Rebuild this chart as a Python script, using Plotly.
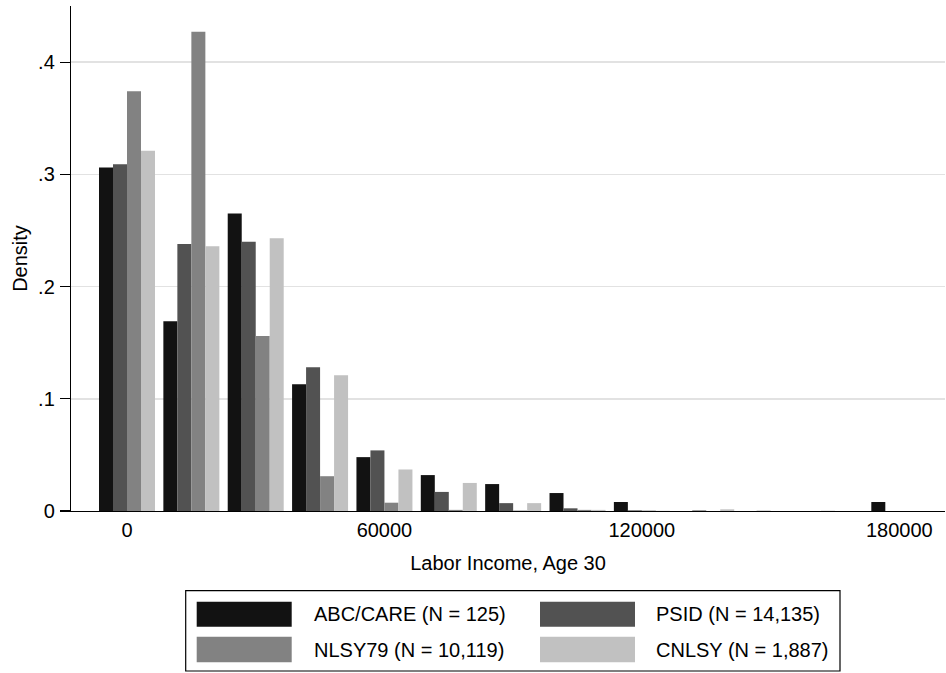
import plotly.graph_objects as go

# ---- data ----
income_bins = [0, 15000, 30000, 45000, 60000, 75000, 90000, 105000, 120000,
               135000, 150000, 165000, 180000]
abc_care = [0.306, 0.169, 0.265, 0.113, 0.048, 0.032, 0.024, 0.016, 0.008,
            0.0, 0.0, 0.0, 0.008]
psid = [0.309, 0.238, 0.240, 0.128, 0.054, 0.017, 0.007, 0.0024, 0.0006,
        0.0005, 0.0002, 0.0001, 0.0]
nlsy79 = [0.374, 0.427, 0.156, 0.031, 0.0074, 0.001, 0.0004, 0.001, 0.0004,
          0.0, 0.0, 0.0, 0.0]
cnlsy = [0.321, 0.236, 0.243, 0.121, 0.037, 0.025, 0.007, 0.001, 0.0002,
         0.0015, 0.0, 0.0, 0.0]

series_names = ["ABC/CARE (N = 125)", "PSID (N = 14,135)",
                "NLSY79 (N = 10,119)", "CNLSY (N = 1,887)"]
series_values = [abc_care, psid, nlsy79, cnlsy]
series_colors = ["#121212", "#525252", "#828282", "#c1c1c1"]

x_tick_vals = [0, 60000, 120000, 180000]
x_tick_text = ["0", "60000", "120000", "180000"]
y_tick_vals = [0, 0.1, 0.2, 0.3, 0.4]
y_tick_text = ["0", ".1", ".2", ".3", ".4"]

FONT = "Liberation Sans, Arial, Helvetica, sans-serif"
W, H = 946, 673
ML, MR, MT, MB = 71, 1, 6, 162
PW, PH = W - ML - MR, H - MT - MB


def px_x(p):
    return (p - ML) / PW


def px_y(p):
    return (H - MB - p) / PH


fig = go.Figure()
for name, vals, col in zip(series_names, series_values, series_colors):
    fig.add_trace(go.Bar(x=income_bins, y=vals, name=name,
                         marker=dict(color=col, line=dict(width=0)),
                         showlegend=False))

fig.update_layout(
    template="none",
    width=W, height=H,
    margin=dict(l=ML, r=MR, t=MT, b=MB, pad=0, autoexpand=False),
    paper_bgcolor="white", plot_bgcolor="white",
    barmode="group", bargap=0.13, bargroupgap=0.0,
    font=dict(family=FONT, size=20, color="black"),
    xaxis=dict(range=[-13052, 190650], tickvals=x_tick_vals, ticktext=x_tick_text,
               automargin=False,
               showline=True, linecolor="black", linewidth=1.2, showgrid=False,
               zeroline=False, ticks="", ticklen=0, ticklabelstandoff=1,
               tickfont=dict(size=20),
               title=dict(text="Labor Income, Age 30", font=dict(size=20), standoff=15)),
    yaxis=dict(range=[0, 0.45], tickvals=y_tick_vals, ticktext=y_tick_text,
               automargin=False,
               showline=True, linecolor="black", linewidth=1.2,
               showgrid=True, gridcolor="#e2e2e2", gridwidth=1.6, zeroline=False,
               ticks="outside", ticklen=10, tickwidth=1.2, tickcolor="black",
               ticklabelstandoff=1, tickfont=dict(size=20),
               title=dict(text="Density", font=dict(size=20), standoff=5)),
)

# ---- legend drawn as a boxed key (two columns, two rows) ----
shapes = [dict(type="rect", xref="paper", yref="paper",
               x0=px_x(185.7), x1=px_x(840), y0=px_y(671), y1=px_y(590.7),
               line=dict(color="black", width=1.2), fillcolor="white")]
annotations = []
swatch_x = [(196.7, 291.7), (540, 635)]
text_x = [312, 654]
rows = [(601.7, 626.7), (636.7, 662.3)]
for i, (name, col) in enumerate(zip(series_names, series_colors)):
    r, c = divmod(i, 2)
    sx0, sx1 = swatch_x[c]
    sy0, sy1 = rows[r]
    shapes.append(dict(type="rect", xref="paper", yref="paper",
                       x0=px_x(sx0), x1=px_x(sx1), y0=px_y(sy1), y1=px_y(sy0),
                       line=dict(width=0), fillcolor=col))
    annotations.append(dict(xref="paper", yref="paper", x=px_x(text_x[c]),
                            y=px_y((sy0 + sy1) / 2), text=name, showarrow=False,
                            xanchor="left", yanchor="middle",
                            font=dict(size=20, family=FONT, color="black")))
fig.update_layout(shapes=shapes, annotations=annotations)

# remove the browser's default page margin so the figure sits at (0, 0)
fig.write_html("out.html",
               config={"displayModeBar": False, "staticPlot": True},
               post_script="document.body.style.margin='0px';"
                           "document.body.style.overflow='hidden';")
